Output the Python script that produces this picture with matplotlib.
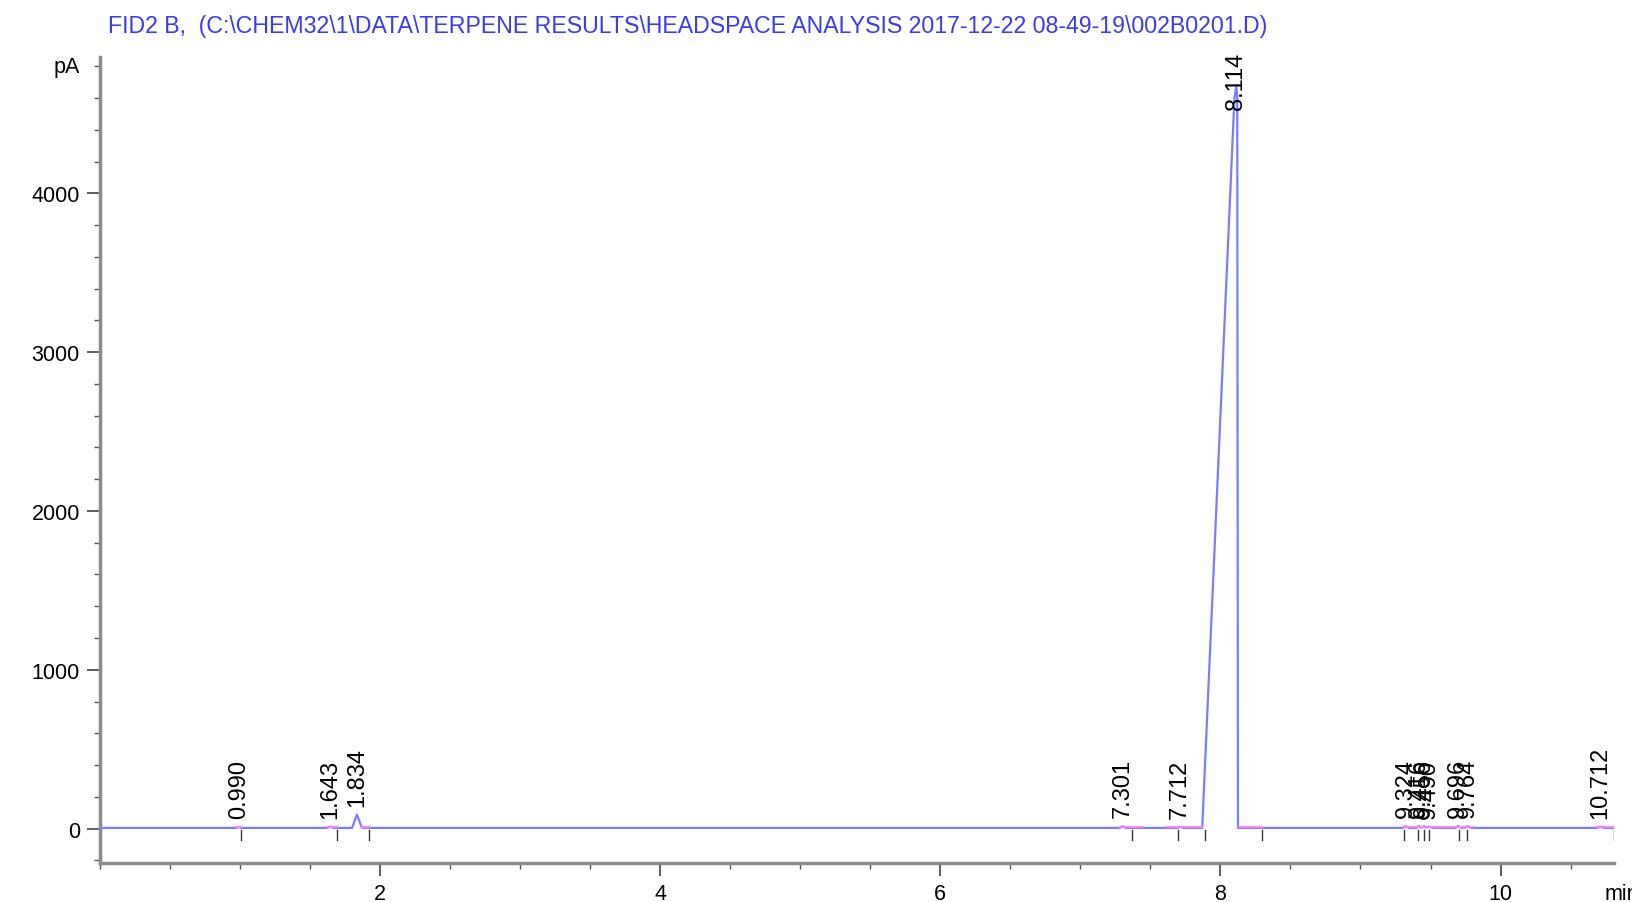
import matplotlib
matplotlib.use("Agg")
import matplotlib.pyplot as plt
from matplotlib.ticker import FixedLocator, MultipleLocator

plt.rcParams['font.family'] = ['Liberation Sans', 'DejaVu Sans']

title = "FID2 B,  (C:\\CHEM32\\1\\DATA\\TERPENE RESULTS\\HEADSPACE ANALYSIS 2017-12-22 08-49-19\\002B0201.D)"

# signal trace (min, pA)
trace_t = [0.0, 0.97, 0.99, 1.01, 1.62, 1.643, 1.67, 1.80, 1.834, 1.87, 1.92,
           7.28, 7.301, 7.33, 7.69, 7.712, 7.74, 7.87, 8.10, 8.114, 8.12, 8.125,
           9.30, 9.324, 9.35, 9.40, 9.416, 9.43, 9.456, 9.47, 9.490, 9.52,
           9.68, 9.696, 9.72, 9.75, 9.764, 9.79, 10.69, 10.712, 10.74, 10.81]
trace_pA = [4, 4, 10, 4, 4, 12, 4, 4, 88, 6, 4,
            4, 14, 4, 4, 10, 4, 4, 4600, 4680, 4600, 4,
            4, 14, 4, 4, 16, 6, 14, 6, 12, 4,
            4, 16, 4, 6, 14, 4, 4, 12, 4, 4]

# labelled peaks
peak_rt = [0.990, 1.643, 1.834, 7.301, 7.712, 8.114, 9.324, 9.416, 9.456,
           9.490, 9.696, 9.764, 10.712]
peak_pA = [10, 12, 88, 14, 10, 4680, 14, 16, 14, 12, 16, 14, 12]

# integration baselines and peak start/end marks
base_segments = [(0.97, 1.01), (1.62, 1.69), (1.86, 1.92), (7.28, 7.45),
                 (7.62, 7.87), (8.13, 8.30), (9.30, 9.80), (10.68, 10.81)]
event_marks = [1.01, 1.69, 1.92, 7.37, 7.70, 7.89, 8.30, 9.31, 9.41, 9.45,
               9.49, 9.70, 9.76, 10.81]

fig = plt.figure(figsize=(16.33, 9.03), dpi=100)
ax = fig.add_axes([100 / 1633, 1 - 864 / 903, 1514 / 1633, (864 - 57.5) / 903])

ax.plot(trace_t, trace_pA, color='#7c7cff', lw=1.6, zorder=3)
for a, b in base_segments:
    ax.plot([a, b], [7, 7], color='#ff80ff', lw=1.6, alpha=0.9, zorder=3.5)
for m in event_marks:
    ax.plot([m, m], [-10, -70], color='#333333', lw=1.0, zorder=2)

for rt, h in zip(peak_rt, peak_pA):
    lab = f"{rt:.3f}"
    if h > 4000:
        ax.annotate(lab, xy=(rt, 1.0), xycoords=('data', 'axes fraction'),
                    xytext=(0, 3.5), textcoords='offset points',
                    rotation=90, ha='center', va='top', fontsize=17, zorder=4)
    else:
        ax.annotate(lab, xy=(rt, h), xytext=(0, 6.5), textcoords='offset points',
                    rotation=90, ha='center', va='bottom', fontsize=17, zorder=4)

ax.set_xlim(0, 10.81)
ax.set_ylim(-217, 4862)

ax.xaxis.set_major_locator(FixedLocator([2, 4, 6, 8, 10]))
ax.xaxis.set_minor_locator(MultipleLocator(0.5))
ax.yaxis.set_major_locator(FixedLocator([0, 1000, 2000, 3000, 4000]))
ax.yaxis.set_minor_locator(MultipleLocator(200))

ax.tick_params(which='major', length=9.5, width=1.2, color='#444444',
               labelsize=15.5, pad=5)
ax.tick_params(which='minor', length=4, width=1.0, color='#555555')

for side in ['top', 'right']:
    ax.spines[side].set_visible(False)
for side in ['left', 'bottom']:
    ax.spines[side].set_color('#8c8c8c')
    ax.spines[side].set_linewidth(2.5)

ax.annotate('pA', xy=(0, 4800), xycoords=('axes fraction', 'data'),
            xytext=(-14.5, 0), textcoords='offset points',
            ha='right', va='center', fontsize=15.5)
ax.annotate('min', xy=(1, 0), xycoords='axes fraction',
            xytext=(-7, -14.5), textcoords='offset points',
            ha='left', va='top', fontsize=15.5, annotation_clip=False)

fig.text(108 / 1633, 1 - 26 / 903, title, color='#3a3af0', fontsize=16.7,
         ha='left', va='center')

fig.savefig("out.png", dpi=100)
